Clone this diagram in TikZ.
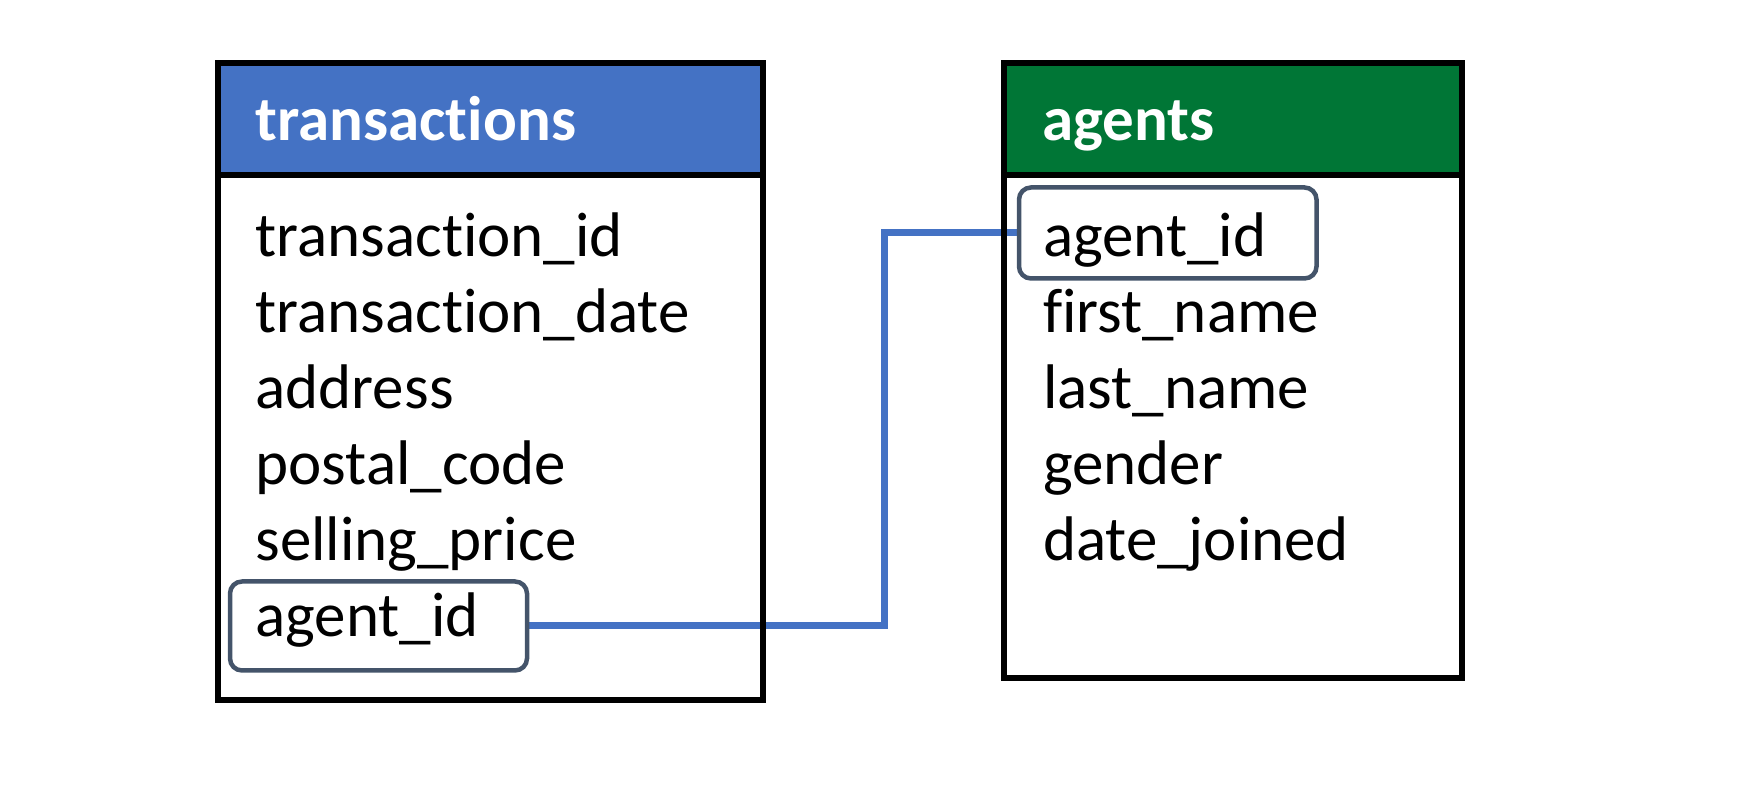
\documentclass[tikz,border=0pt]{standalone}
\usepackage{fontspec}
\setmainfont{Carlito}[RawFeature={-liga;-clig;-calt;-dlig}]
\usepackage{tikz}
\usetikzlibrary{positioning,backgrounds}
\definecolor{TableBlue}{RGB}{68,114,196}
\definecolor{TableGreen}{RGB}{0,118,54}
\definecolor{KeySlate}{RGB}{68,84,106}

\begin{document}
\begin{tikzpicture}[
  x=1pt,y=1pt,
  node distance=0pt,
  hdr/.style={
    draw,line width=6pt,outer sep=0pt,anchor=north west,
    minimum height=112pt,inner xsep=38pt,inner ysep=0pt,align=left,
    text height=46pt,text depth=2pt,text=white,
    font=\fontsize{63}{76}\selectfont\bfseries
  },
  body/.style={draw,line width=6pt,outer sep=0pt},
  field/.style={
    inner sep=0pt,outer sep=0pt,text width=460pt,align=left,
    text height=50pt,text depth=26pt,font=\fontsize{63}{76}\selectfont
  },
  keyfield/.style={
    draw=KeySlate,line width=4.5pt,rounded corners=12pt,outer sep=0pt,
    inner xsep=25.5pt,inner ysep=0pt,minimum height=89pt,text width=246pt,
    align=left,text height=40pt,text depth=18pt,
    font=\fontsize{63}{76}\selectfont
  },
  link/.style={TableBlue,line width=7pt}
]
  \useasboundingbox (0,0) rectangle (1742,786);

  % transactions table
  \node[hdr,fill=TableBlue,minimum width=545pt,text width=469pt] (thdr)
    at (217.5,723) {transactions};
  \node[body,minimum width=545pt,minimum height=525pt,below=of thdr] (tbody) {};
  \node[field,below right=32pt and 38pt of thdr.south west] (tid) {transaction\_id};
  \node[field,below=of tid] (tdate) {transaction\_date};
  \node[field,below=of tdate] (taddr) {address};
  \node[field,below=of taddr] (tpost) {postal\_code};
  \node[field,below=of tpost] (tsell) {selling\_price};
  \node[keyfield,anchor=base west,xshift=-25.5pt,yshift=-76pt] (tkey)
    at (tsell.base west) {agent\_id};

  % agents table
  \node[hdr,fill=TableGreen,minimum width=458pt,text width=382pt] (ahdr)
    at (1004,723) {agents};
  \node[body,minimum width=458pt,minimum height=503pt,below=of ahdr] (abody) {};
  \node[keyfield,anchor=base west,inner xsep=24pt,text width=249.5pt,
    minimum height=91pt,text height=54pt,text depth=6pt] (akey)
    at ([shift={(15pt,-82pt)}]ahdr.south west) {agent\_id};
  \node[field,anchor=base west,xshift=24pt,yshift=-76pt] (afirst)
    at (akey.base west) {first\_name};
  \node[field,below=of afirst] (alast) {last\_name};
  \node[field,below=of alast] (agender) {gender};
  \node[field,below=of agender] (ajoined) {date\_joined};

  % foreign key link
  \coordinate (bend) at (884,0);
  \begin{scope}[on background layer]
    \draw[link] (tkey.east) -- (tkey.east -| bend) |- (akey.west);
  \end{scope}
\end{tikzpicture}
\end{document}
